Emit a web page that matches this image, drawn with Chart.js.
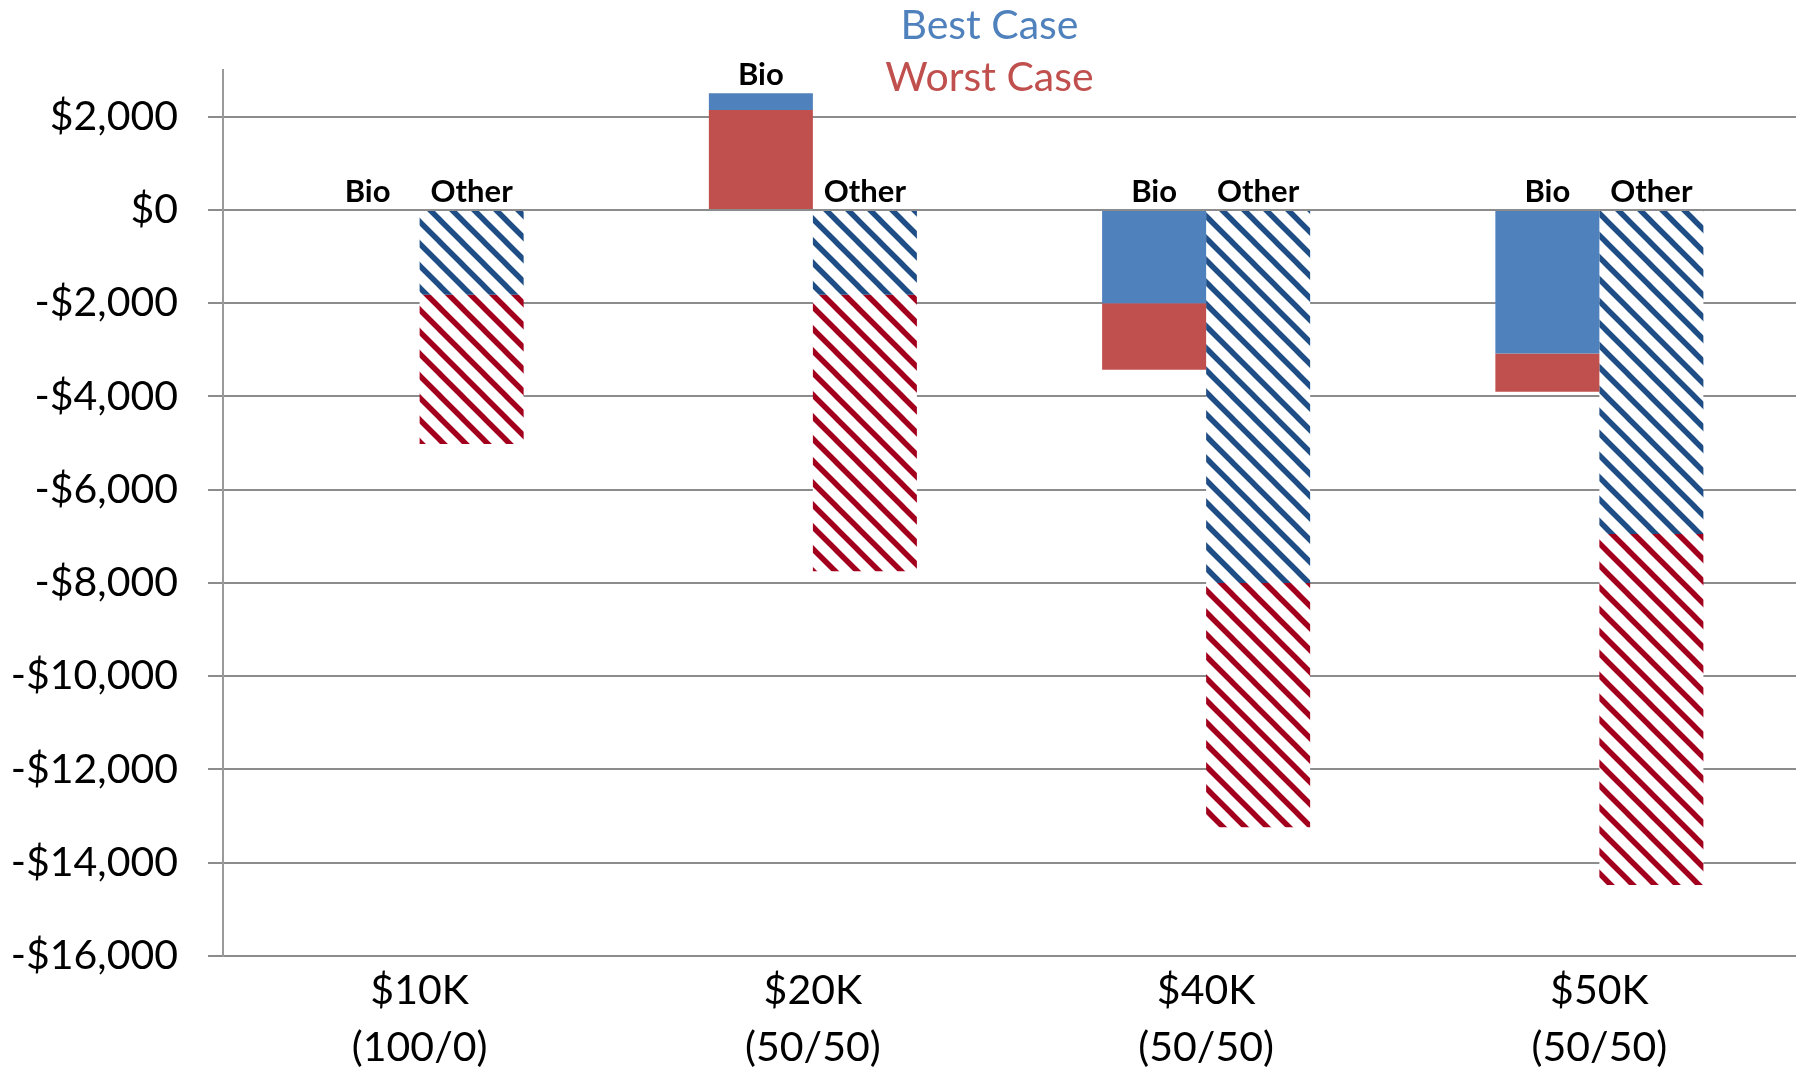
<!DOCTYPE html>
<html>
<head>
<meta charset="utf-8">
<script src="https://cdn.jsdelivr.net/npm/chart.js@4/dist/chart.umd.min.js"></script>
<style>
  html, body { margin: 0; padding: 0; background: #ffffff; }
  #wrap { width: 1796px; height: 1073px; position: relative; }
</style>
</head>
<body>
<div id="wrap"><canvas id="c"></canvas></div>
<script>
// ---- data ----
const categories = [['$10K', '(100/0)'], ['$20K', '(50/50)'], ['$40K', '(50/50)'], ['$50K', '(50/50)']];
const groups = ['Bio', 'Other'];
const seriesNames = ['Best Case', 'Worst Case'];
const bioBest = [0, 2500, -2000, -3080];
const bioWorst = [0, 2140, -3430, -3900];
const otherBest = [-1820, -1820, -8000, -6950];
const otherWorst = [-5020, -7750, -13240, -14480];
const yTicks = [-16000, -14000, -12000, -10000, -8000, -6000, -4000, -2000, 0, 2000];

// ---- styles ----
const BLUE = '#4F81BD';
const RED = '#C0504D';
const HATCH_BLUE = '#1F4E86';
const HATCH_RED = '#A3001E';
const GRID = '#8C8C8C';

function hatch(color) {
  const s = 22;
  const c = document.createElement('canvas');
  c.width = s; c.height = s;
  const g = c.getContext('2d');
  g.fillStyle = '#ffffff';
  g.fillRect(0, 0, s, s);
  g.strokeStyle = color;
  g.lineWidth = 5.5;
  g.lineCap = 'square';
  for (const off of [-s, 0, s]) {
    g.beginPath();
    g.moveTo(off - 4, -4);
    g.lineTo(off + s + 4, s + 4);
    g.stroke();
  }
  return g.createPattern(c, 'repeat');
}

// the smaller-magnitude value is drawn from zero; the larger one continues beyond it
function floatRange(own, other) {
  return Math.abs(own) <= Math.abs(other) ? [0, own] : [other, own];
}

function money(v) {
  const s = '$' + Math.abs(v).toLocaleString('en-US');
  return v < 0 ? '-' + s : s;
}

Chart.defaults.font.family = 'Lato, "Open Sans", sans-serif';

const labelPlugin = {
  id: 'groupLabels',
  afterDatasetsDraw(chart) {
    const ctx = chart.ctx;
    const y = chart.scales.y;
    const zero = y.getPixelForValue(0);
    ctx.save();
    ctx.textAlign = 'center';
    ctx.textBaseline = 'alphabetic';
    ctx.fillStyle = '#000000';
    ctx.font = 'bold 31px Lato, "Open Sans", sans-serif';
    categories.forEach((_, j) => {
      groups.forEach((name, g) => {
        const a = chart.getDatasetMeta(g * 2).data[j];
        const b = chart.getDatasetMeta(g * 2 + 1).data[j];
        const top = Math.min(zero, a.y, a.base, b.y, b.base);
        ctx.fillText(name, a.x, top - 8);
      });
    });
    const ca = chart.chartArea;
    const cx = (ca.left + ca.right) / 2 - 20;
    ctx.font = '41px Lato, "Open Sans", sans-serif';
    ctx.fillStyle = BLUE;
    ctx.fillText(seriesNames[0], cx, ca.top - 31);
    ctx.fillStyle = RED;
    ctx.fillText(seriesNames[1], cx, ca.top + 21);
    ctx.restore();
  }
};

new Chart(document.getElementById('c'), {
  type: 'bar',
  data: {
    labels: categories,
    datasets: [
      { label: seriesNames[0], stack: 'bio', data: bioBest.map((v, i) => floatRange(v, bioWorst[i])), backgroundColor: BLUE },
      { label: seriesNames[1], stack: 'bio', data: bioWorst.map((v, i) => floatRange(v, bioBest[i])), backgroundColor: RED },
      { label: seriesNames[0], stack: 'other', data: otherBest.map((v, i) => floatRange(v, otherWorst[i])), backgroundColor: hatch(HATCH_BLUE) },
      { label: seriesNames[1], stack: 'other', data: otherWorst.map((v, i) => floatRange(v, otherBest[i])), backgroundColor: hatch(HATCH_RED) }
    ]
  },
  options: {
    responsive: true,
    maintainAspectRatio: false,
    animation: false,
    layout: { padding: { top: 70, right: 0, left: 0, bottom: 0 } },
    datasets: { bar: { barPercentage: 1.0, categoryPercentage: 0.529, borderWidth: 0 } },
    plugins: { legend: { display: false }, tooltip: { enabled: false }, title: { display: false } },
    scales: {
      x: {
        grid: { display: false, drawTicks: false },
        border: { display: false },
        ticks: { color: '#000000', font: { size: 41, lineHeight: 1.4 }, padding: 6, maxRotation: 0, autoSkip: false },
        afterFit(scale) { scale.height = 117; }
      },
      y: {
        stacked: false,
        min: -16000,
        max: 3000,
        afterBuildTicks(scale) { scale.ticks = yTicks.map(v => ({ value: v })); },
        grid: { color: GRID, lineWidth: 2, drawTicks: true, tickLength: 15, tickColor: GRID },
        border: { display: true, color: '#9A9A9A', width: 2 },
        ticks: { color: '#000000', font: { size: 41 }, padding: 30, callback: (v) => money(v) },
        afterFit(scale) { scale.width = 223; }
      }
    }
  },
  plugins: [labelPlugin]
});
</script>
</body>
</html>
